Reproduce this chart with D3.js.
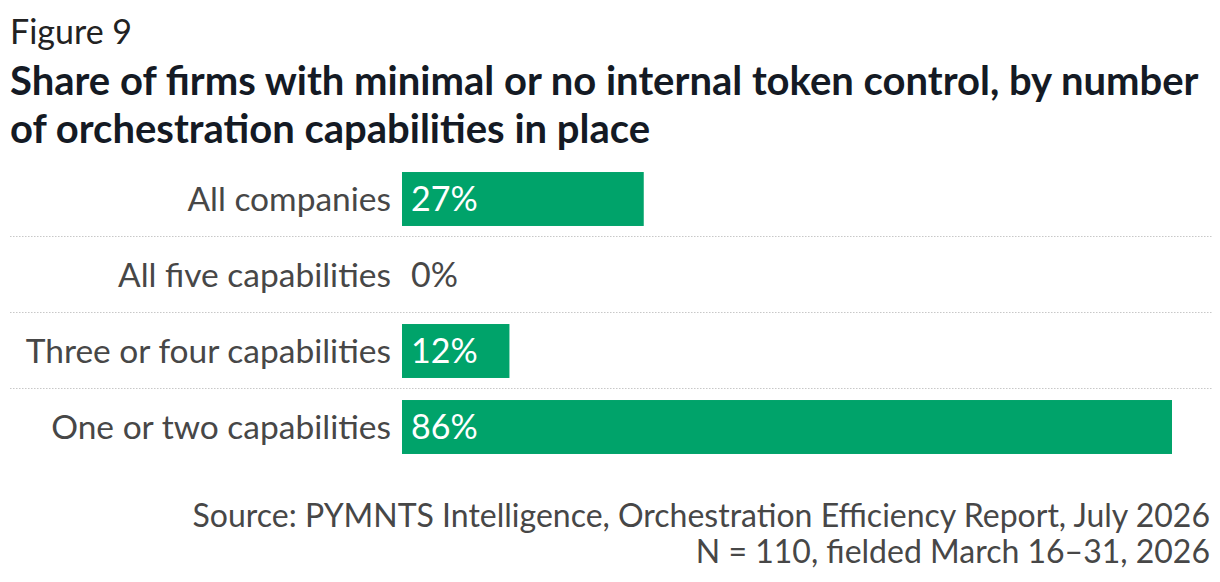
<!DOCTYPE html>
<html>
<head>
<meta charset="utf-8">
<script src="https://cdn.jsdelivr.net/npm/d3@7"></script>
<style>
  body { margin: 0; background: #fff; }
  svg text { font-family: Lato, "Open Sans", sans-serif; }
</style>
</head>
<body>
<svg id="chart" width="1220" height="582"></svg>
<script>
// chart data
var categories = ["All companies", "All five capabilities", "Three or four capabilities", "One or two capabilities"];
var shares = [27, 0, 12, 86];
var titleLines = ["Share of firms with minimal or no internal token control, by number",
                  "of orchestration capabilities in place"];
var sourceLines = ["Source: PYMNTS Intelligence, Orchestration Efficiency Report, July 2026",
                   "N = 110, fielded March 16\u201331, 2026"];

var barColour = "#00a36a";
var textColour = "#474747";

var svg = d3.select("#chart");

svg.append("text")
    .attr("x", 10).attr("y", 44)
    .attr("font-size", 34)
    .attr("fill", "#222")
    .text("Figure 9");

svg.selectAll(".title")
    .data(titleLines)
    .enter().append("text")
    .attr("class", "title")
    .attr("x", 10)
    .attr("y", function(d, i) { return 95 + i * 48; })
    .attr("font-size", 40)
    .attr("font-weight", 700)
    .attr("fill", "#141a24")
    .text(function(d) { return d; });

var x = d3.scaleLinear().domain([0, 86]).range([402, 1172]);
var y = d3.scaleBand().domain(categories).range([161, 465]).paddingInner(0.29).paddingOuter(0.145);

// dotted separators between rows
var seps = categories.slice(1);
svg.selectAll(".sep")
    .data(seps)
    .enter().append("line")
    .attr("class", "sep")
    .attr("x1", 10).attr("x2", 1212)
    .attr("y1", function(d) { return y(d) - y.step() * y.paddingInner() / 2 - 0.5; })
    .attr("y2", function(d) { return y(d) - y.step() * y.paddingInner() / 2 - 0.5; })
    .attr("stroke", "#c8c8c8")
    .attr("stroke-width", 1.2)
    .attr("stroke-dasharray", "1.5,1.5");

var rows = svg.selectAll(".row")
    .data(categories)
    .enter().append("g")
    .attr("class", "row");

rows.append("rect")
    .attr("x", x(0))
    .attr("y", function(d) { return y(d); })
    .attr("width", function(d, i) { return x(shares[i]) - x(0); })
    .attr("height", y.bandwidth())
    .attr("fill", barColour);

rows.append("text")
    .attr("x", 391)
    .attr("y", function(d) { return y(d) + y.bandwidth() / 2; })
    .attr("dy", "0.35em")
    .attr("text-anchor", "end")
    .attr("font-size", 33.5)
    .attr("fill", textColour)
    .text(function(d) { return d; });

rows.append("text")
    .attr("x", x(0) + 9)
    .attr("y", function(d) { return y(d) + y.bandwidth() / 2; })
    .attr("dy", "0.35em")
    .attr("font-size", 34)
    .attr("fill", function(d, i) { return shares[i] > 0 ? "#fff" : textColour; })
    .text(function(d, i) { return shares[i] + "%"; });

svg.selectAll(".source")
    .data(sourceLines)
    .enter().append("text")
    .attr("class", "source")
    .attr("x", 1210)
    .attr("y", function(d, i) { return 527 + i * 36; })
    .attr("text-anchor", "end")
    .attr("font-size", 32)
    .attr("fill", textColour)
    .text(function(d) { return d; });
</script>
</body>
</html>
